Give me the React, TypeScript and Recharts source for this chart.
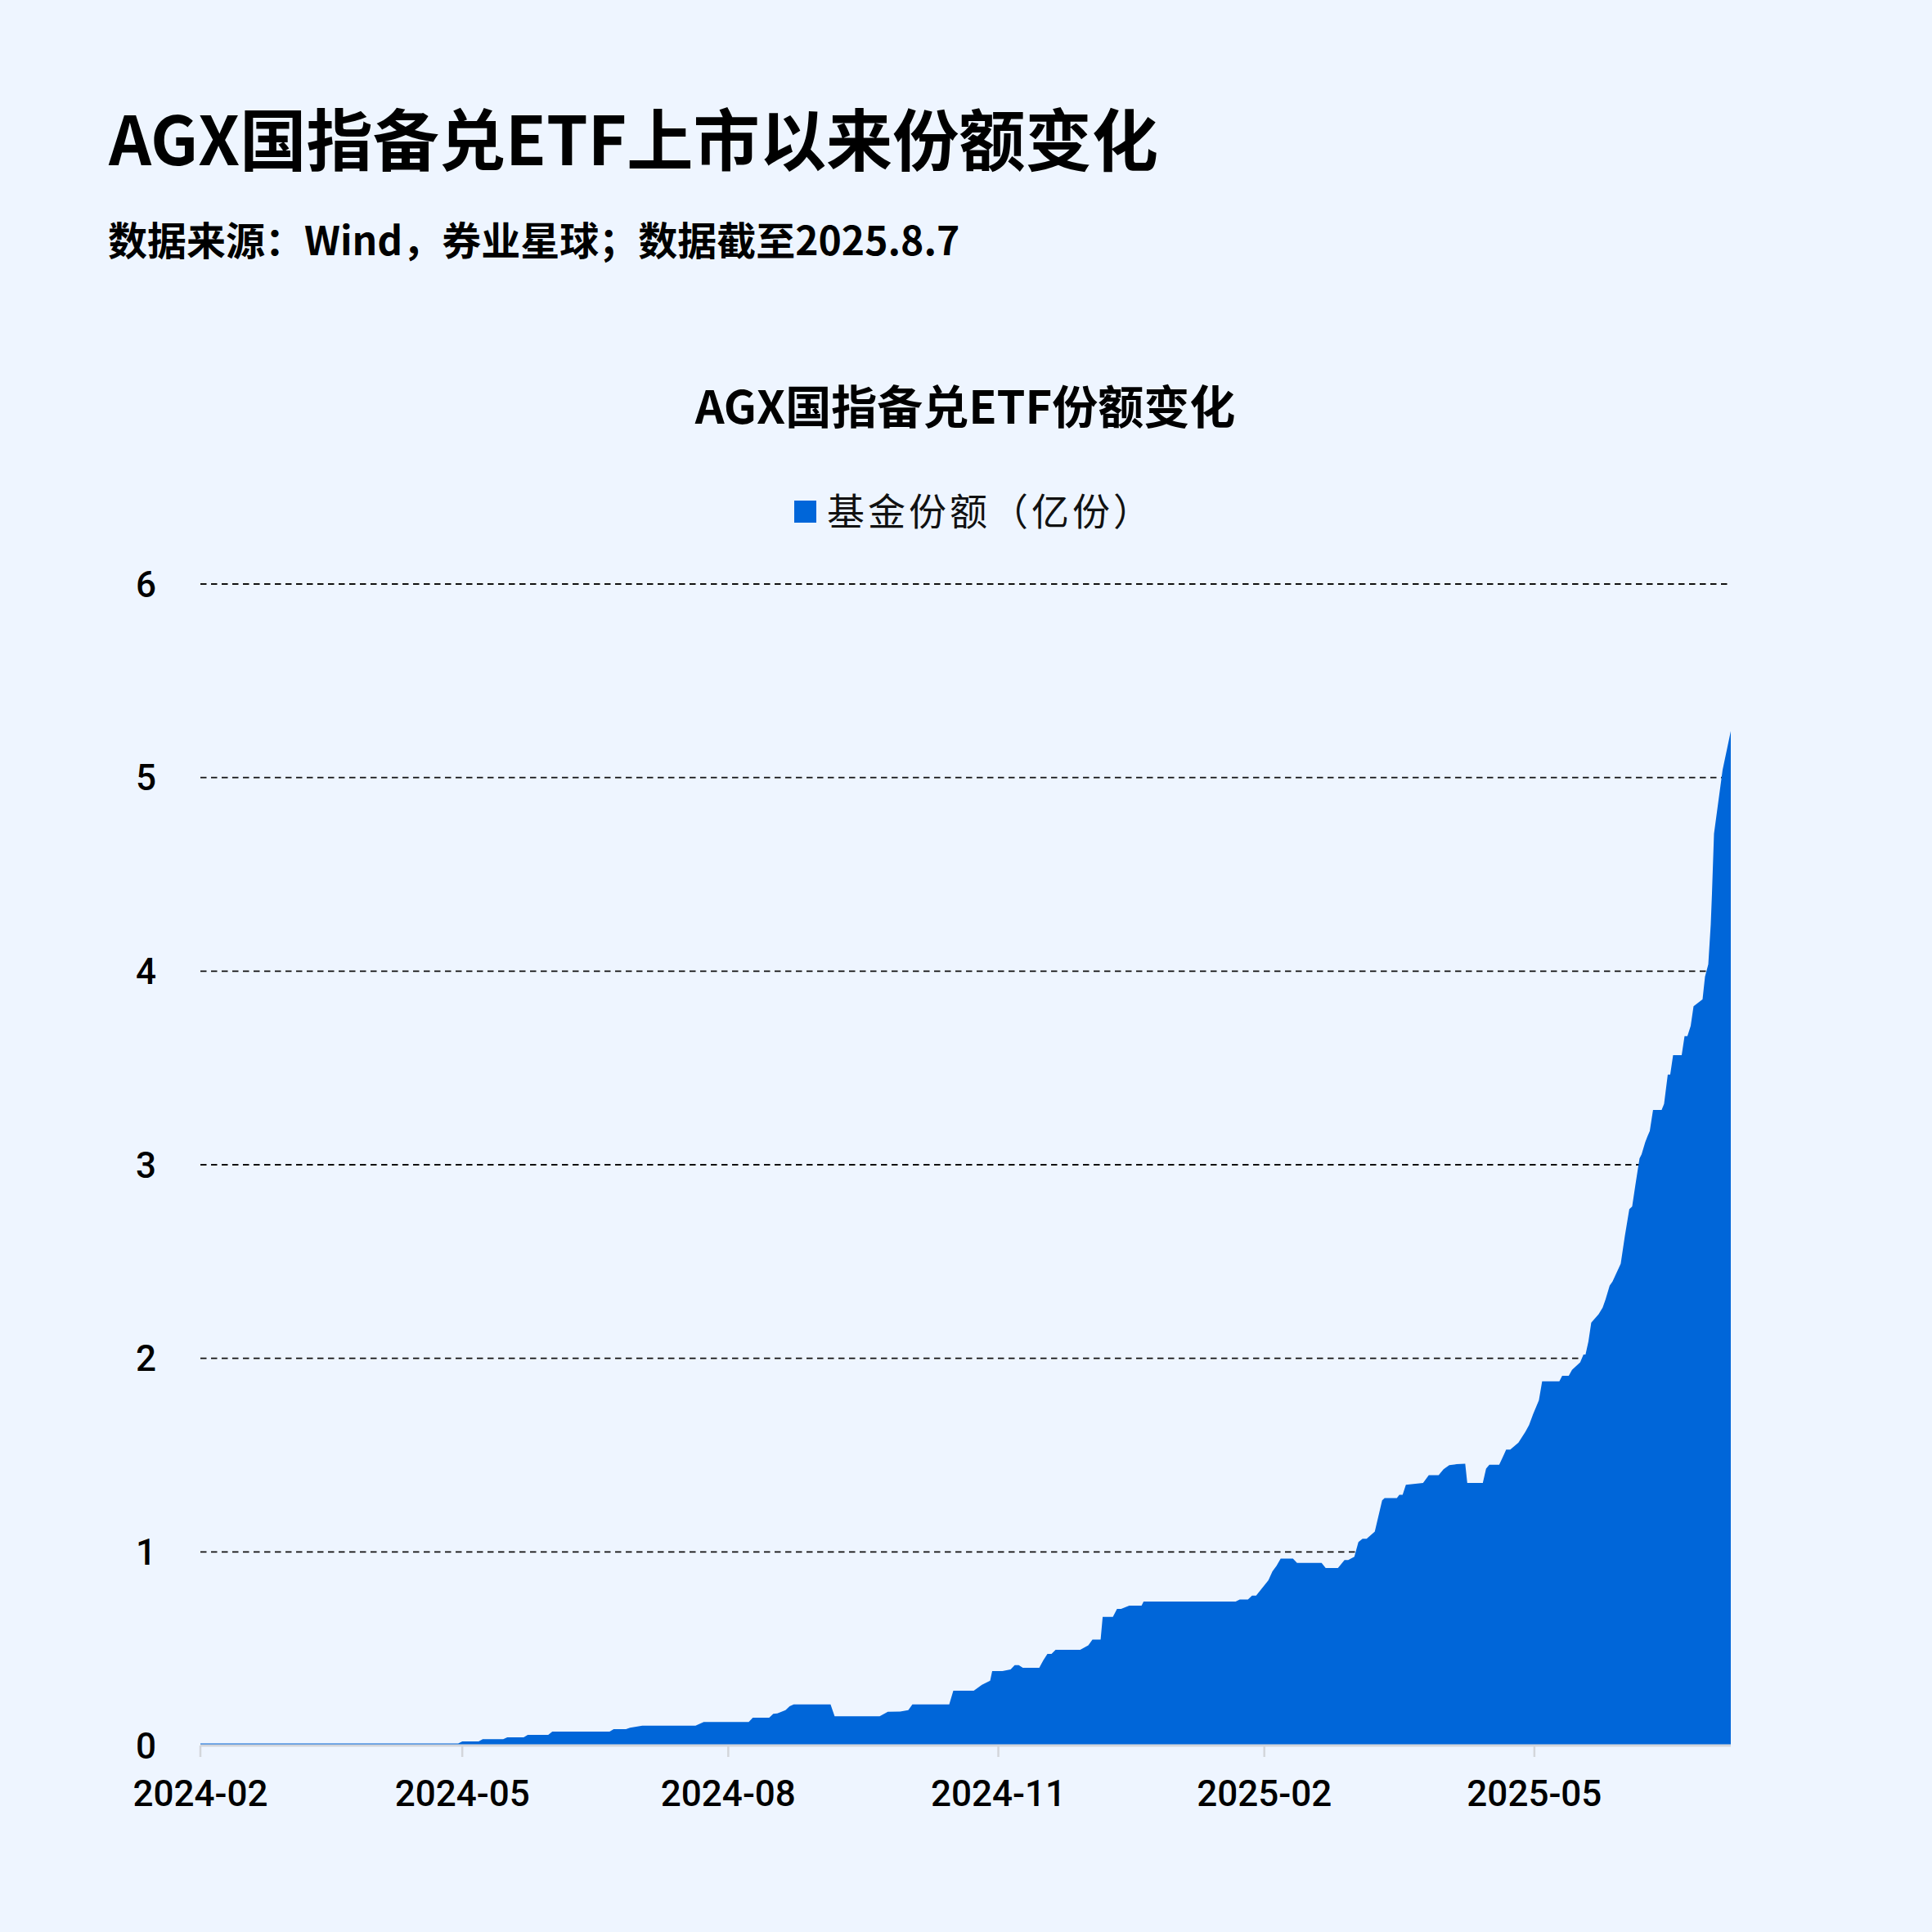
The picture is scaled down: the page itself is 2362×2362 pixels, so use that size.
import React from 'react';
import { AreaChart, Area, XAxis, YAxis, CartesianGrid } from 'recharts';

// Trading-day index (x position along the listing period) and fund shares (亿份)
const tradingDayIndex = [
  0, 63, 64, 68, 69, 74, 75, 79, 80, 85, 86, 100, 101, 104, 105, 108, 121, 123, 134, 135,
  139, 140, 141, 143, 144, 145, 154, 155, 166, 168, 171, 173, 174, 183, 184, 189, 191, 193, 193.5, 196,
  198, 199, 200, 201, 205, 206, 207, 208, 209, 215, 217, 218, 220, 220.5, 223, 224, 225, 227, 230, 230.5,
  253, 254, 256, 257, 258, 259, 261, 262, 263, 264, 267, 268, 274, 275, 278, 279.6, 280.5, 282, 283, 284,
  285, 287, 288.8, 289.4, 292.4, 293, 293.8, 294.6, 298.8, 300.2, 302.6, 303.8, 305.2, 307, 309.1, 309.6, 313.4, 314.2, 315, 317.4,
  318.2, 319.1, 320.1, 322.1, 323.8, 324.7, 325.7, 327.1, 327.9, 332.1, 332.8, 334.4, 335.2, 337.2, 338, 338.5, 339.2, 339.9, 341.7, 342.7,
  343.4, 344.4, 345.1, 347.1, 348.1, 349.2, 349.9, 350.7, 351.7, 352.2, 353.1, 353.6, 354.2, 355, 357.1, 357.7, 358.6, 359.2, 359.9, 362,
  362.7, 363.4, 364.2, 364.9, 367.1, 367.7, 368.5, 369.1, 369.4, 369.9, 372, 374,
];

const fundShares = [
  0.011, 0.011, 0.021, 0.021, 0.033, 0.033, 0.042, 0.042, 0.055, 0.055, 0.072, 0.072, 0.085, 0.085, 0.092, 0.102, 0.102, 0.122, 0.122, 0.144,
  0.144, 0.164, 0.166, 0.183, 0.203, 0.212, 0.212, 0.151, 0.151, 0.174, 0.175, 0.183, 0.212, 0.212, 0.283, 0.283, 0.314, 0.335, 0.384, 0.384,
  0.393, 0.415, 0.415, 0.401, 0.401, 0.441, 0.473, 0.473, 0.494, 0.494, 0.518, 0.547, 0.547, 0.664, 0.664, 0.706, 0.706, 0.723, 0.723, 0.744,
  0.744, 0.754, 0.754, 0.774, 0.774, 0.801, 0.853, 0.9, 0.928, 0.965, 0.965, 0.943, 0.943, 0.917, 0.917, 0.958, 0.958, 0.975, 1.051, 1.068,
  1.068, 1.105, 1.267, 1.278, 1.278, 1.295, 1.295, 1.347, 1.356, 1.397, 1.397, 1.427, 1.448, 1.453, 1.456, 1.356, 1.356, 1.43, 1.45, 1.45,
  1.486, 1.528, 1.528, 1.564, 1.62, 1.655, 1.712, 1.783, 1.881, 1.881, 1.91, 1.91, 1.941, 1.98, 2.02, 2.02, 2.086, 2.185, 2.228, 2.263,
  2.305, 2.376, 2.397, 2.489, 2.63, 2.771, 2.785, 2.898, 3.033, 3.054, 3.117, 3.145, 3.174, 3.283, 3.283, 3.315, 3.466, 3.466, 3.566, 3.566,
  3.664, 3.664, 3.717, 3.819, 3.855, 3.972, 4.035, 4.24, 4.4, 4.71, 5.04, 5.24,
];

const xTickIndex = [0, 64, 129, 195, 260, 326];
const xTickLabels = ['2024-02', '2024-05', '2024-08', '2024-11', '2025-02', '2025-05'];
const yTicks = [0, 1, 2, 3, 4, 5, 6];
const gridValues = [1, 2, 3, 4, 5, 6];

const mainTitle = 'AGX国指备兑ETF上市以来份额变化';
const subTitle = '数据来源：Wind，券业星球；数据截至2025.8.7';
const chartTitle = 'AGX国指备兑ETF份额变化';
const seriesName = '基金份额（亿份）';

const data = tradingDayIndex.map((d, i) => ({ idx: d, shares: fundShares[i] }));

const BG = '#EEF5FF';
const BLUE = '#0066D9';
const CJK = '"Noto Sans CJK SC", "Noto Sans", sans-serif';
const NUM = 'Roboto, "Noto Sans", sans-serif';

export default function App() {
  const labelOf = (v: number) => {
    const k = xTickIndex.indexOf(v);
    return k >= 0 ? xTickLabels[k] : '';
  };
  const legendChars = Array.from(seriesName);
  const legendX = legendChars.map((_, i) => 1011 + i * 50).join(' ');
  return (
    <div
      style={{
        position: 'absolute',
        left: 0,
        top: 0,
        width: 2362,
        height: 2362,
        background: BG,
        overflow: 'hidden',
      }}
    >
      <AreaChart
        width={2362}
        height={2362}
        data={data}
        margin={{ top: 714, right: 246, bottom: 128, left: 145 }}
      >
        <CartesianGrid
          horizontal={true}
          vertical={false}
          horizontalValues={gridValues}
          stroke="#111111"
          strokeWidth={1.8}
          strokeDasharray="7.5 5.5"
        />
        <XAxis
          dataKey="idx"
          type="number"
          domain={[0, 374]}
          ticks={xTickIndex}
          tickFormatter={labelOf}
          height={100}
          interval={0}
          axisLine={{ stroke: '#D3D6DB', strokeWidth: 3 }}
          tickLine={{ stroke: '#D3D6DB', strokeWidth: 2.5 }}
          tickSize={14}
          tickMargin={29}
          tick={{ fill: '#000000', fontSize: 44, fontFamily: NUM, fontWeight: 500 }}
        />
        <YAxis
          type="number"
          domain={[0, 6]}
          ticks={yTicks}
          width={100}
          axisLine={false}
          tickLine={false}
          tickSize={0}
          tickMargin={54}
          interval={0}
          tick={{ fill: '#000000', fontSize: 44, fontFamily: NUM, fontWeight: 500 }}
        />
        <Area
          type="linear"
          dataKey="shares"
          name={seriesName}
          fill={BLUE}
          fillOpacity={1}
          stroke="none"
          dot={false}
          activeDot={false}
          isAnimationActive={false}
        />
      </AreaChart>
      <svg
        width={2362}
        height={2362}
        style={{ position: 'absolute', left: 0, top: 0, pointerEvents: 'none' }}
      >
        <text
          x={133}
          y={202}
          fontFamily={CJK}
          fontWeight={700}
          fontSize={82}
          fill="#000000"
          textLength={1283}
          lengthAdjust="spacingAndGlyphs"
        >
          {mainTitle}
        </text>
        <text x={132} y={312} fontFamily={CJK} fontWeight={700} fontSize={48} fill="#000000">
          {subTitle}
        </text>
        <text
          x={1180}
          y={518}
          textAnchor="middle"
          fontFamily={CJK}
          fontWeight={700}
          fontSize={56}
          fill="#000000"
        >
          {chartTitle}
        </text>
        <rect x={971} y={612} width={27} height={27} fill={BLUE} />
        <text x={legendX} y={642} fontFamily={CJK} fontWeight={400} fontSize={46} fill="#111111">
          {seriesName}
        </text>
      </svg>
    </div>
  );
}
